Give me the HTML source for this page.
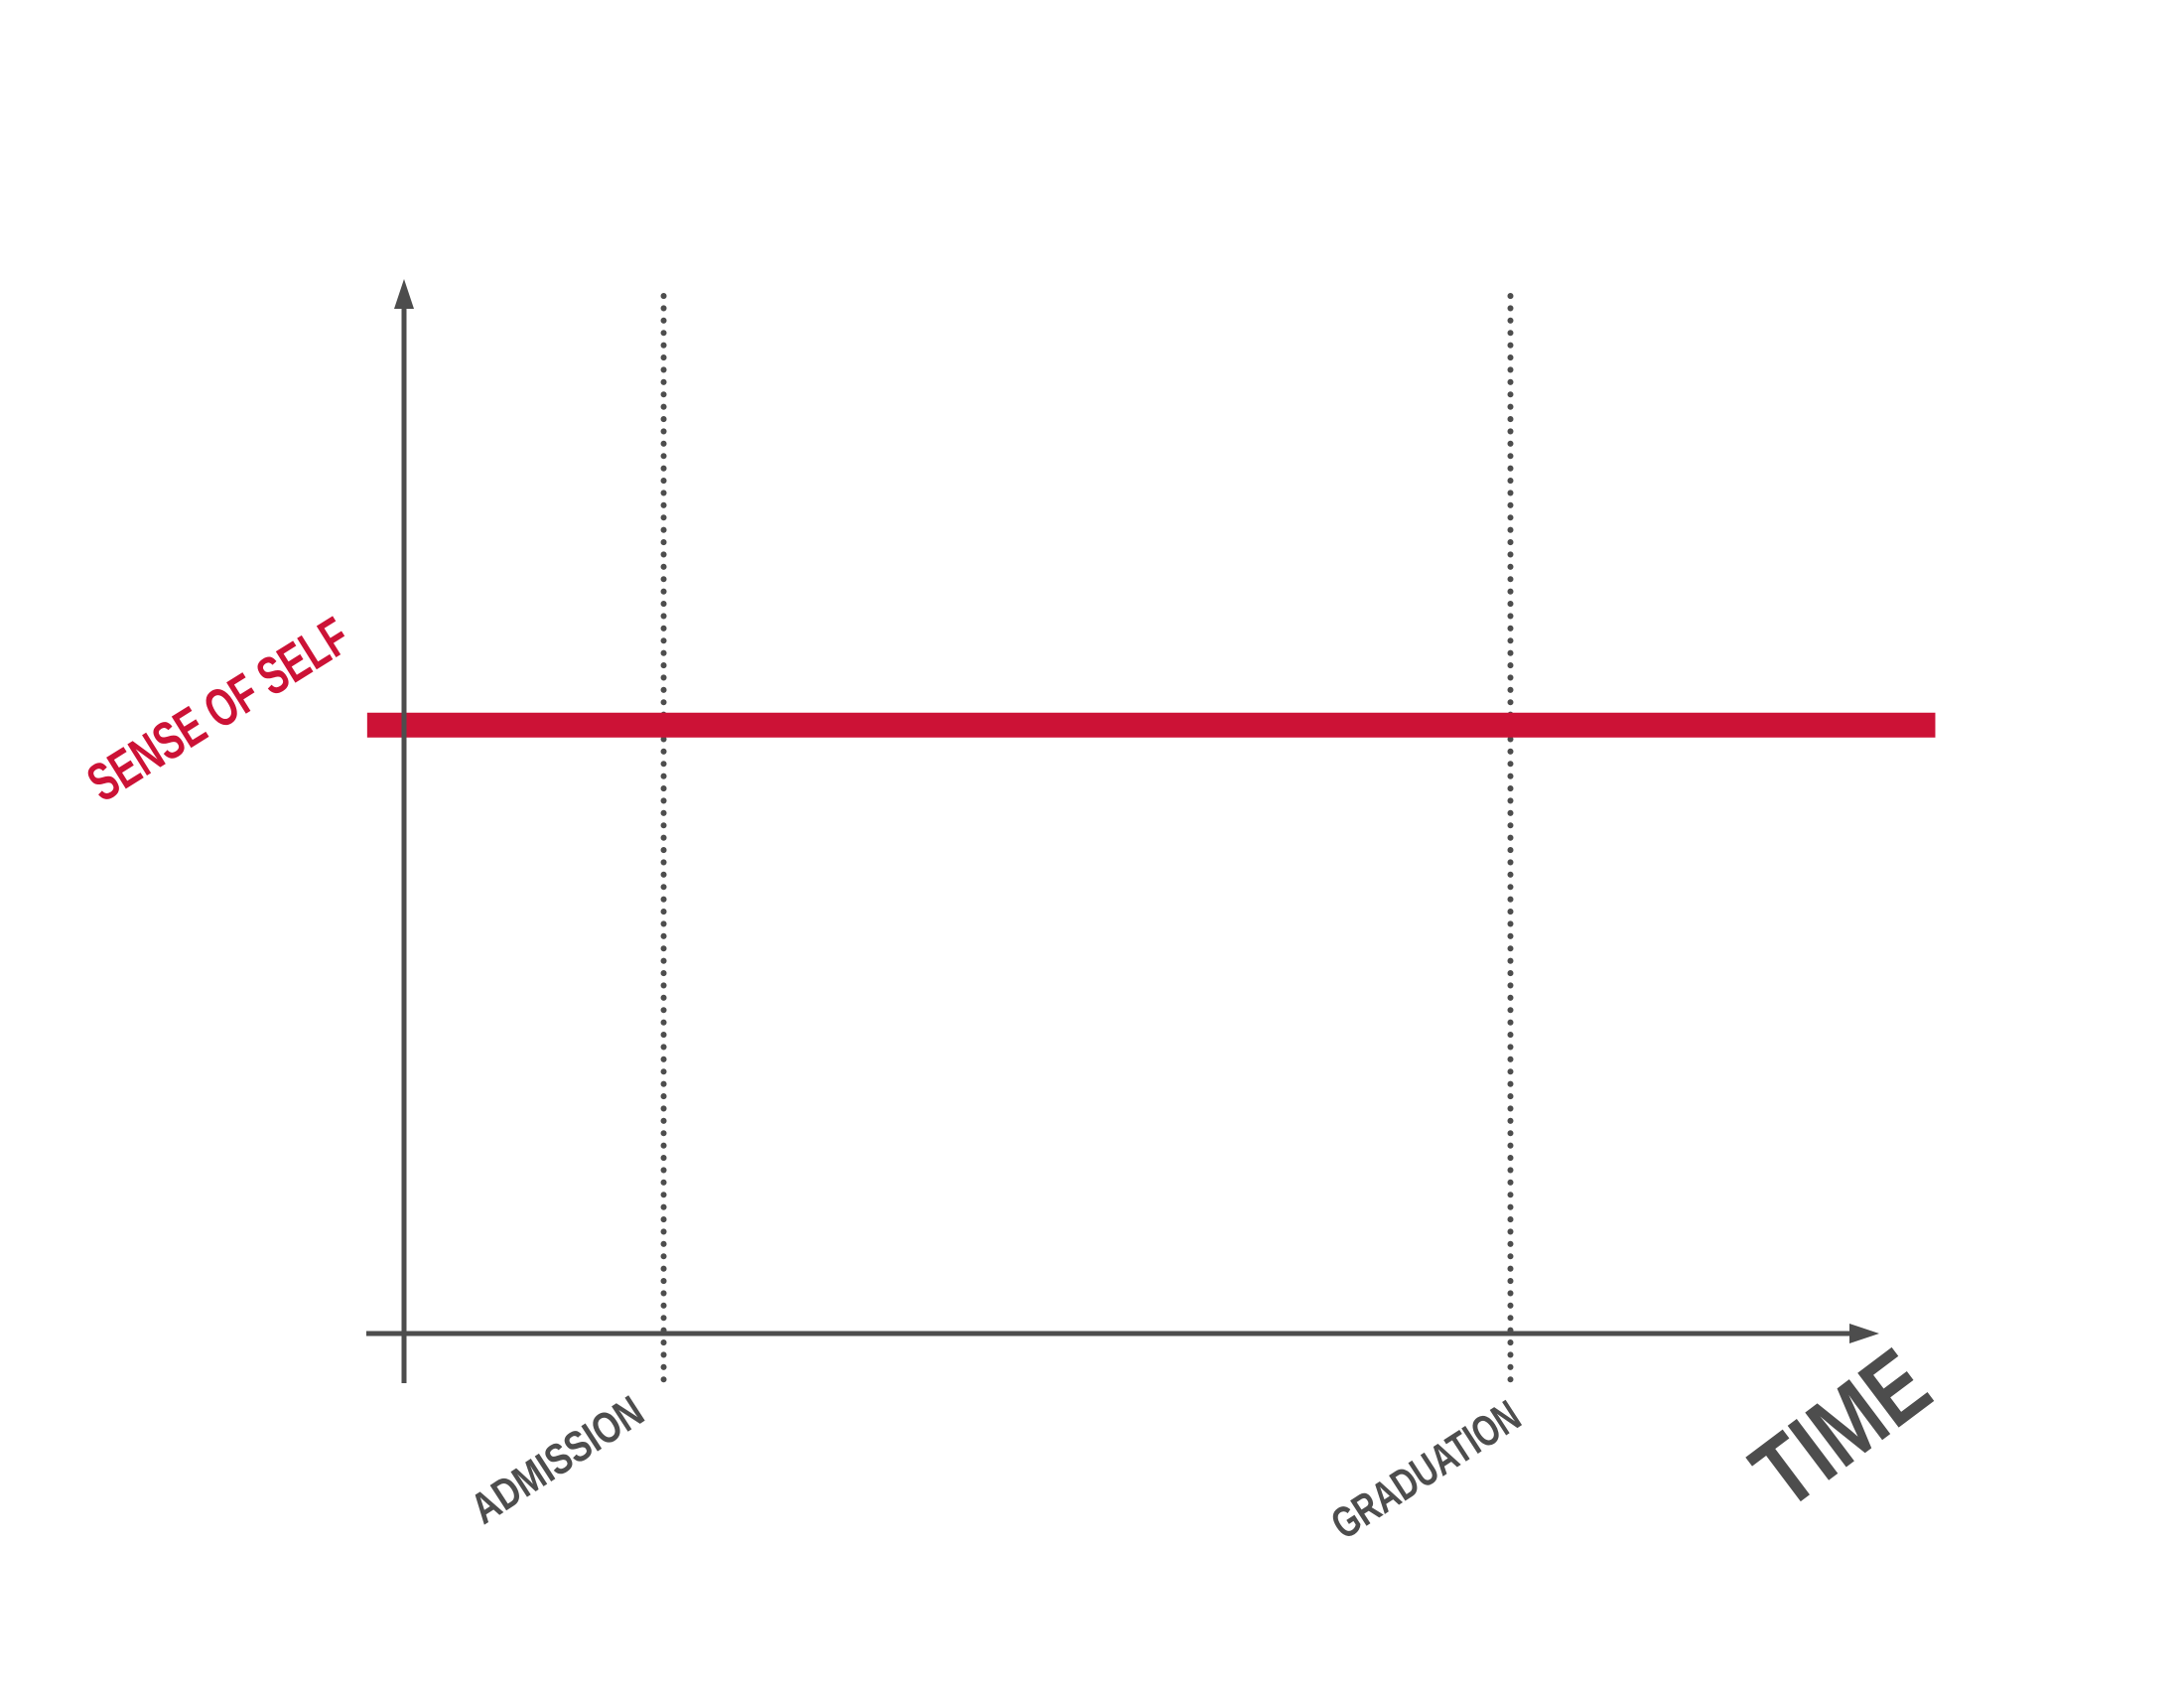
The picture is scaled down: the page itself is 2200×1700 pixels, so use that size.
<!DOCTYPE html>
<html><head><meta charset="utf-8"><style>
html,body{margin:0;padding:0;background:#fff;}
svg{display:block;}
text{font-family:"Liberation Sans Narrow","Liberation Sans",sans-serif;}
</style></head><body>
<svg width="2200" height="1700" viewBox="0 0 2200 1700" xmlns="http://www.w3.org/2000/svg">
  <g id="marks"></g>
  <line x1="407" y1="305" x2="407" y2="1393" stroke="#4d4d4d" stroke-width="5"/>
  <polygon points="407,281 397,311 417,311" fill="#4d4d4d"/>
  <line x1="369" y1="1343" x2="1870" y2="1343" stroke="#4d4d4d" stroke-width="5"/>
  <polygon points="1893,1343 1863,1333 1863,1353" fill="#4d4d4d"/>
  <text transform="translate(222,718) rotate(-32)" text-anchor="middle" dominant-baseline="middle" font-size="54" font-weight="bold" fill="#cc1236" textLength="298" lengthAdjust="spacingAndGlyphs">SENSE OF SELF</text>
  <text transform="translate(563,1473) rotate(-33)" text-anchor="middle" dominant-baseline="middle" font-size="44" font-weight="bold" fill="#4d4d4d" textLength="196" lengthAdjust="spacingAndGlyphs">ADMISSION</text>
  <text transform="translate(1438,1483) rotate(-33)" text-anchor="middle" dominant-baseline="middle" font-size="44" font-weight="bold" fill="#4d4d4d" textLength="216" lengthAdjust="spacingAndGlyphs">GRADUATION</text>
  <text transform="translate(1859,1445) rotate(-37)" text-anchor="middle" dominant-baseline="middle" font-size="100" font-weight="bold" fill="#4d4d4d" textLength="190" lengthAdjust="spacingAndGlyphs">TIME</text>
</svg>
<script>
// data
const milestones = ["ADMISSION", "GRADUATION"];
const milestoneTimes = [0.176, 0.750];
const senseOfSelf = [0.577, 0.577];
const seriesTimes = [-0.025, 1.038];

// axes (time 0..1 maps to x 407..1893; value 0..1 maps y 1343..281)
function xScale(t){ return 407 + t * (1893 - 407); }
function yScale(v){ return 1343 - v * (1343 - 281); }

const NS = "http://www.w3.org/2000/svg";
const g = document.getElementById('marks');
milestoneTimes.forEach(function(t, i){
  const l = document.createElementNS(NS, 'line');
  const x = xScale(t);
  l.setAttribute('x1', x); l.setAttribute('x2', x);
  l.setAttribute('y1', 298); l.setAttribute('y2', 1392);
  l.setAttribute('stroke', '#4d4d4d');
  l.setAttribute('stroke-width', '6');
  l.setAttribute('stroke-linecap', 'round');
  l.setAttribute('stroke-dasharray', '0.1 12.3');
  
  
  g.appendChild(l);
});
const pts = seriesTimes.map(function(t, i){ return xScale(t) + ',' + yScale(senseOfSelf[i]); }).join(' ');
const pl = document.createElementNS(NS, 'polyline');
pl.setAttribute('points', pts);
pl.setAttribute('fill', 'none');
pl.setAttribute('stroke', '#cc1236');
pl.setAttribute('stroke-width', '25');


g.appendChild(pl);
</script>
</body></html>
